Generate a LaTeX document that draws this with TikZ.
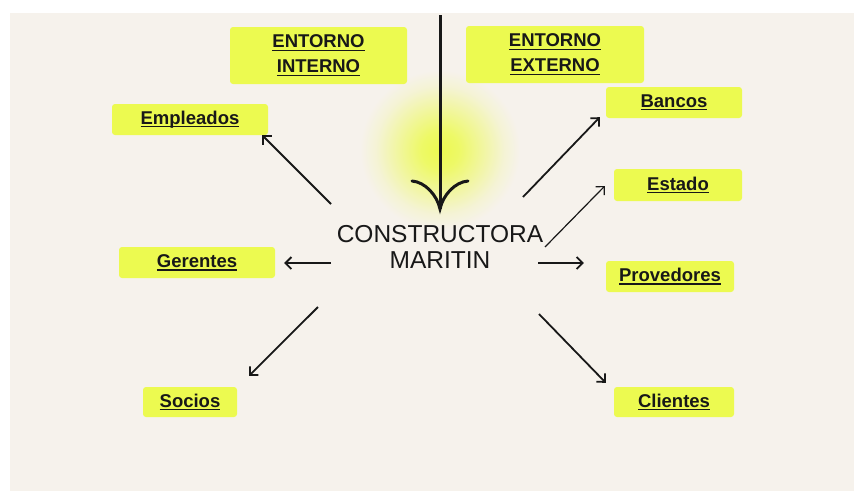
\documentclass[tikz,border=0pt]{standalone}
\usepackage{fontspec}
\setmainfont{Liberation Sans}
\usetikzlibrary{arrows.meta,positioning}
\definecolor{paper}{RGB}{246,242,236}
\definecolor{lime}{RGB}{236,250,80}
\definecolor{ink}{RGB}{24,24,24}
\pgfdeclareradialshading{glow}{\pgfpoint{0cm}{0cm}}{color(0bp)=(lime);color(6bp)=(lime!85!paper);color(14bp)=(lime!45!paper);color(20bp)=(lime!15!paper);color(25bp)=(paper);color(50bp)=(paper)}
\newsavebox{\lblbox}
\newcommand{\lbl}[1]{\sbox{\lblbox}{#1}\rlap{\rule[-3.2pt]{\wd\lblbox}{1.5pt}}\usebox{\lblbox}}

\begin{document}
\begin{tikzpicture}[x=1pt,y=-1pt,
                    box/.style={fill=lime,rounded corners=3pt,inner sep=0pt,text=ink,
                                font=\fontsize{18.5}{25}\selectfont\bfseries,align=center},
                    arr/.style={-{Straight Barb[length=6pt,width=12pt]},line width=1.8pt,draw=ink}]

  % page and glow
  \useasboundingbox (0,0) rectangle (854,490);
  \fill[white] (0,0) rectangle (854,490);
  \fill[paper] (10,13) rectangle (860,496);
  \shade[shading=glow] (440,150) circle (80);

  % headings
  \node[box,minimum width=177pt,minimum height=57pt] (interno) at (318.5,55.5) {\lbl{ENTORNO}\\\lbl{INTERNO}};
  \node[box,minimum width=178pt,minimum height=57pt] (externo) at (555,54.5) {\lbl{ENTORNO}\\\lbl{EXTERNO}};

  % company
  \node[font=\fontsize{24.5}{26}\selectfont,align=center,inner sep=0pt,text=ink] (firm) at (440,246.5) {CONSTRUCTORA\\MARITIN};

  % groups
  \node[box,minimum width=156pt,minimum height=31pt] (empleados) at (190,119.5) {\lbl{Empleados}};
  \node[box,minimum width=156pt,minimum height=31pt] (gerentes) at (197,262.5) {\lbl{Gerentes}};
  \node[box,minimum width=94pt,minimum height=30pt] (socios) at (190,402) {\lbl{Socios}};
  \node[box,minimum width=136pt,minimum height=31pt] (bancos) at (674,102.5) {\lbl{Bancos}};
  \node[box,minimum width=128pt,minimum height=32pt] (estado) at (678,185) {\lbl{Estado}};
  \node[box,minimum width=128pt,minimum height=31pt] (provedores) at (670,276.5) {\lbl{Provedores}};
  \node[box,minimum width=120pt,minimum height=30pt] (clientes) at (674,402) {\lbl{Clientes}};

  % main arrow
  \coordinate (top) at (440,15);
  \coordinate (tip) at (440,209);
  \draw[ink,line width=3pt] (top) -- (tip);
  \draw[ink,line width=3pt,line cap=round] (412,181) .. controls (425,182) and (437,195) .. (tip)
                                          .. controls (443,195) and (455,182) .. (468,181);

  % arrows
  \draw[arr] ([shift={(-109,-42.5)}]firm.center) -- ([shift={(-6,0)}]empleados.south east);
  \draw[arr] ([shift={(-109,16.5)}]firm.center) -- ([shift={(9,0.5)}]gerentes.east);
  \draw[arr] ([shift={(-122,60.5)}]firm.center) -- ([shift={(59,-11)}]socios.north);
  \draw[arr] ([shift={(83,-49.5)}]firm.center) -- ([shift={(-6,-1)}]bancos.south west);
  \draw[arr,line width=1.2pt] ([shift={(105,0.5)}]firm.center) -- ([shift={(-9,1)}]estado.west);
  \draw[arr] ([shift={(98,16.5)}]firm.center) -- ([shift={(-22,-13.5)}]provedores.west);
  \draw[arr] ([shift={(99,67.5)}]firm.center) -- ([shift={(-8,-4)}]clientes.north west);
\end{tikzpicture}
\end{document}
